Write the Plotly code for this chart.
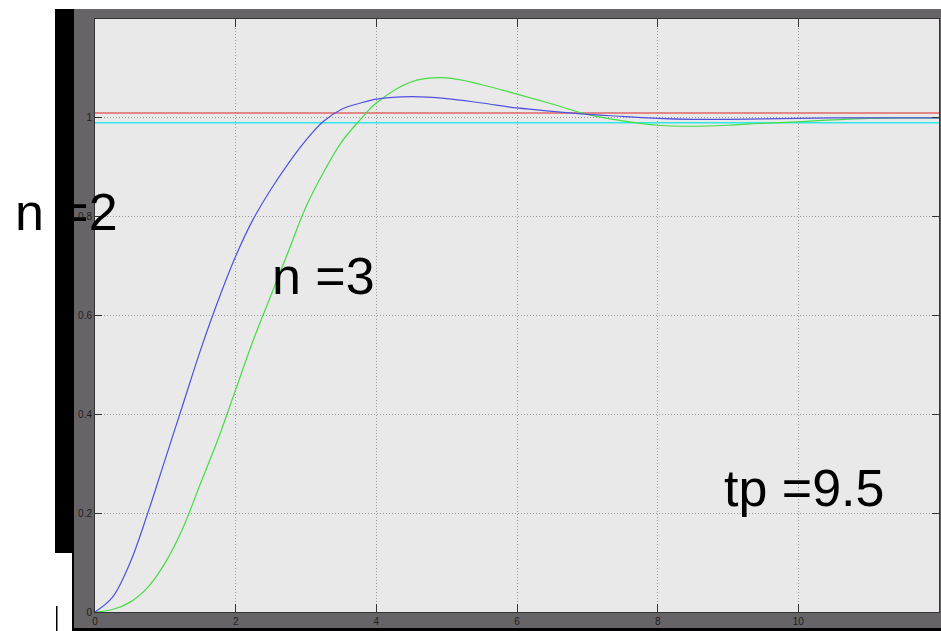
import plotly.graph_objects as go

# step response samples
time = [0, 0.25, 0.5, 0.75, 1.0, 1.25, 1.5, 1.75, 2.0, 2.25, 2.5, 2.75, 3.0, 3.25, 3.5, 3.75,
        4.0, 4.5, 5.0, 5.5, 6.0, 6.5, 7.0, 7.5, 8.0, 8.5, 9.0, 9.5, 10.0, 10.5, 11.0, 11.5, 12.0]
resp_n2 = [0, 0.03, 0.10, 0.20, 0.31, 0.42, 0.53, 0.63, 0.72, 0.795, 0.855, 0.908, 0.955, 0.993, 1.017, 1.029,
           1.038, 1.043, 1.039, 1.03, 1.02, 1.013, 1.007, 1.003, 0.999, 0.997, 0.997, 0.998, 0.999, 1.0, 1.0, 1.0, 1.0]
resp_n3 = [0, 0.005, 0.02, 0.05, 0.10, 0.17, 0.26, 0.35, 0.45, 0.55, 0.64, 0.73, 0.82, 0.89, 0.95, 0.993,
           1.03, 1.073, 1.081, 1.067, 1.048, 1.028, 1.007, 0.994, 0.985, 0.983, 0.985, 0.989, 0.992, 0.996, 0.999, 1.0, 1.0]
band_t = [0, 12]
band_hi = [1.01, 1.01]
band_lo = [0.99, 0.99]

x_ticks = [0, 2, 4, 6, 8, 10, 12]
y_ticks = [0, 0.2, 0.4, 0.6, 0.8, 1]

labels = ["n =2", "n =3", "tp =9.5"]
# label placement in page pixels (left edge, vertical middle)
label_px = [(13, 212), (270, 276), (722, 488)]

W, H = 941, 631
L, R, T, B = 95, 2, 19, 19


def pp(xp, yp):
    # page pixels -> paper coords
    return (xp - L) / (W - L - R), (H - B - yp) / (H - T - B)


def rect(x0, y0, x1, y1, color):
    a, b = pp(x0, y1)
    c, d = pp(x1, y0)
    return dict(type="rect", xref="paper", yref="paper", x0=a, y0=b, x1=c, y1=d,
                fillcolor=color, line_width=0, layer="below")


fig = go.Figure()

fig.add_trace(go.Scatter(x=band_t, y=band_hi, mode="lines", line=dict(color="#e06464", width=1.5)))
fig.add_trace(go.Scatter(x=band_t, y=band_lo, mode="lines", line=dict(color="#30e8e8", width=1.5)))
fig.add_trace(go.Scatter(x=time, y=resp_n3, mode="lines", line=dict(color="#44dd44", width=1.2, shape="spline", smoothing=1)))
fig.add_trace(go.Scatter(x=time, y=resp_n2, mode="lines", line=dict(color="#5050e0", width=1.2, shape="spline", smoothing=1)))

for txt, (xp, yp) in zip(labels, label_px):
    ax, ay = pp(xp, yp)
    fig.add_annotation(x=ax, y=ay, xref="paper", yref="paper", text=txt, showarrow=False,
                       xanchor="left", yanchor="middle",
                       font=dict(family="Liberation Sans, Arial", size=52, color="black"))

shapes = [
    rect(74, 9, 941, 628, "#676467"),
    rect(95, 19, 939, 612, "#e9e9e9"),
    rect(55, 9, 74, 553, "#000000"),
    rect(72, 553, 74, 631, "#000000"),
    rect(56, 606, 57.5, 631, "#000000"),
    rect(74, 628, 941, 631, "#000000"),
]

axis = dict(showgrid=True, gridcolor="#9c9c9c", griddash="1px,2px", gridwidth=1,
            ticks="inside", tickcolor="#333333", showline=True, linecolor="#333333",
            linewidth=1, mirror="ticks", zeroline=False,
            tickfont=dict(family="Liberation Sans, Arial", size=10, color="#1e1e1e"))

fig.update_xaxes(range=[0, 12], tickvals=x_ticks, ticklen=8, **axis)
fig.update_yaxes(range=[0, 1.2], tickvals=y_ticks, ticklen=7, **axis)

fig.update_layout(width=W, height=H, margin=dict(l=L, r=R, t=T, b=B, pad=0),
                  paper_bgcolor="white", plot_bgcolor="rgba(0,0,0,0)",
                  showlegend=False, shapes=shapes)

fig.write_html("out.html", config={"displayModeBar": False},
               post_script="document.body.style.margin='0';document.body.style.overflow='hidden';")
